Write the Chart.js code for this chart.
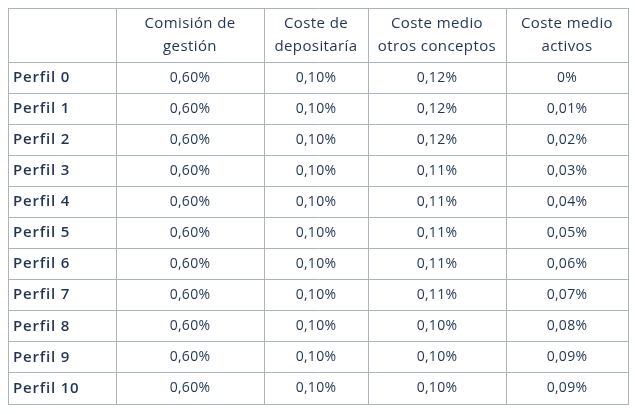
<!DOCTYPE html>
<html><head><meta charset="utf-8">
<script src="https://cdn.jsdelivr.net/npm/chart.js@4"></script>
<style>html,body{margin:0;padding:0;background:#fff}#w{width:635px;height:414px}</style>
</head><body><div id="w"><canvas id="c"></canvas></div>
<script>
const headers = [["Comisión de","gestión"],["Coste de","depositaría"],["Coste medio","otros conceptos"],["Coste medio","activos"]];
const profiles = ["Perfil 0","Perfil 1","Perfil 2","Perfil 3","Perfil 4","Perfil 5","Perfil 6","Perfil 7","Perfil 8","Perfil 9","Perfil 10"];
const comision = ["0,60%","0,60%","0,60%","0,60%","0,60%","0,60%","0,60%","0,60%","0,60%","0,60%","0,60%"];
const depositaria = ["0,10%","0,10%","0,10%","0,10%","0,10%","0,10%","0,10%","0,10%","0,10%","0,10%","0,10%"];
const otros = ["0,12%","0,12%","0,12%","0,11%","0,11%","0,11%","0,11%","0,11%","0,10%","0,10%","0,10%"];
const activos = ["0%","0,01%","0,02%","0,03%","0,04%","0,05%","0,06%","0,07%","0,08%","0,09%","0,09%"];
const columns = [comision, depositaria, otros, activos];
const xB = [0,108,256,360,498,620];
const yB = [0,54]; for (let i=0;i<profiles.length;i++) yB.push(54+31*(i+1));
const TXT = '#1f3553', LINE = '#aab4be';
const font = '"Open Sans", Lato, sans-serif';
const cellPts = [];
profiles.forEach((p,r)=>columns.forEach((c,ci)=>cellPts.push({x:(xB[ci+1]+xB[ci+2])/2,y:(yB[r+1]+yB[r+2])/2,t:c[r]})));
const tablePlugin = {
  id:'table',
  afterDatasetsDraw(chart){
    const ctx=chart.ctx, xs=chart.scales.x, ys=chart.scales.y;
    ctx.save(); ctx.fillStyle=TXT; ctx.textBaseline='middle';
    ctx.textAlign='center'; ctx.font='15px '+font; ctx.letterSpacing='0.4px';
    headers.forEach((h,i)=>{
      const cx=xs.getPixelForValue((xB[i+1]+xB[i+2])/2), cy=ys.getPixelForValue(27);
      ctx.fillText(h[0],cx,cy-11); ctx.fillText(h[1],cx,cy+12);
    });
    ctx.textAlign='left'; ctx.font='600 15px '+font; ctx.letterSpacing='0.8px';
    profiles.forEach((p,r)=>ctx.fillText(p,xs.getPixelForValue(0)+5,ys.getPixelForValue((yB[r+1]+yB[r+2])/2)));
    ctx.textAlign='center'; ctx.font='14px '+font; ctx.letterSpacing='0.3px';
    chart.data.datasets[0].data.forEach(d=>ctx.fillText(d.t,xs.getPixelForValue(d.x),ys.getPixelForValue(d.y)));
    ctx.restore();
  }
};
const grid = {color:LINE,drawTicks:false,lineWidth:1};
new Chart(document.getElementById('c'),{
  type:'scatter',
  data:{datasets:[{data:cellPts,pointRadius:0,pointHoverRadius:0}]},
  options:{
    responsive:true,maintainAspectRatio:false,animation:false,
    layout:{padding:{left:8,right:7,top:8,bottom:10}},
    plugins:{legend:{display:false},tooltip:{enabled:false}},
    scales:{
      x:{type:'linear',min:0,max:620,grid,border:{color:LINE},ticks:{display:false},
         afterBuildTicks:s=>{s.ticks=xB.map(v=>({value:v}));}},
      y:{type:'linear',min:0,max:yB[yB.length-1],reverse:true,grid,border:{color:LINE},ticks:{display:false},
         afterBuildTicks:s=>{s.ticks=yB.map(v=>({value:v}));}}
    }
  },
  plugins:[tablePlugin]
});
</script></body></html>
